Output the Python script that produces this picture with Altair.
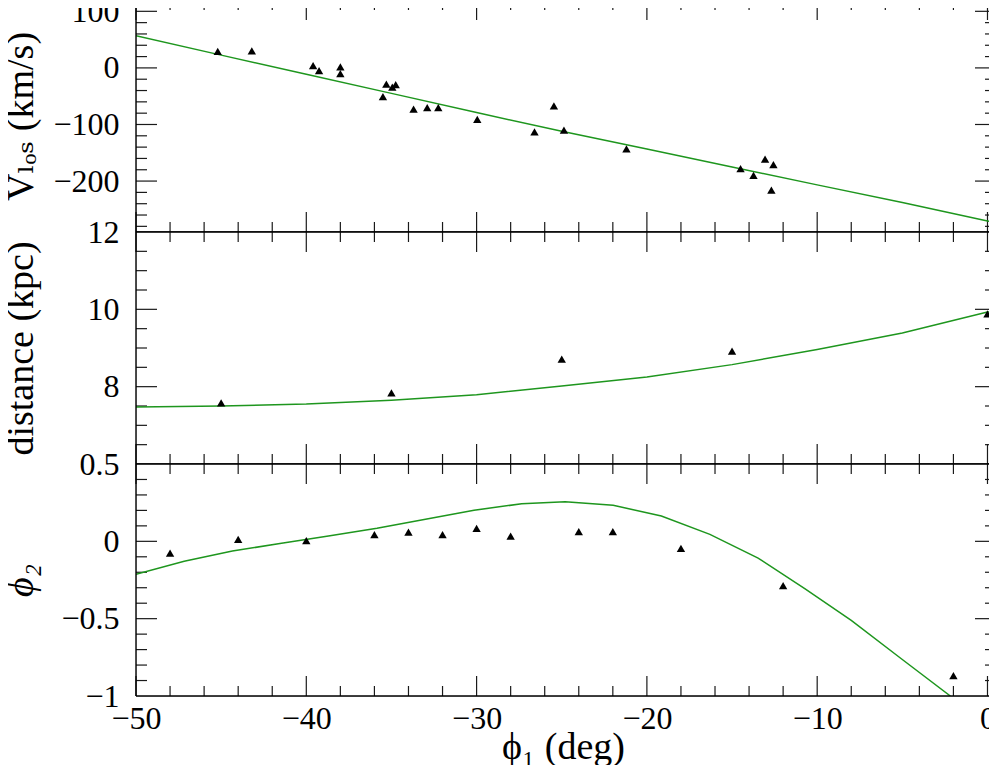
import altair as alt
import pandas as pd

# ---------------- data ----------------
# Panel 1: line-of-sight velocity (km/s)
vlos_phi1 = [-45.2, -43.2, -39.6, -39.25, -38.0, -38.0, -35.5, -35.3, -34.95, -34.75,
             -33.7, -32.9, -32.25, -29.96, -26.6, -25.46, -24.87, -21.2, -14.5, -13.74,
             -13.06, -12.57, -12.69]
vlos_kms = [29, 30, 4, -4.6, 1.8, -10, -50.6, -28.8, -34, -29.4,
            -73, -70, -70, -91, -113, -67, -110, -143, -178, -190,
            -161, -171, -216]
vlos_model_phi1 = [-50, -45, -40, -35, -30, -25, -20, -15, -10, -5, 0, 0.5]
vlos_model_kms = [57, 22.6, -11.3, -45, -79, -112, -143.4, -175, -206.7, -238, -270.5, -273.5]

# Panel 2: distance (kpc)
dist_phi1 = [-45.0, -35.0, -25.0, -15.0, 0.0]
dist_kpc = [7.58, 7.84, 8.71, 8.92, 9.88]
dist_model_phi1 = [-50, -45, -40, -35, -30, -25, -20, -15, -10, -5, 0, 0.5]
dist_model_kpc = [7.475, 7.50, 7.55, 7.65, 7.79, 8.02, 8.25, 8.57, 8.96, 9.39, 9.93, 9.98]

# Panel 3: phi2 (deg)
phi2_phi1 = [-48, -44, -40, -36, -34, -32, -30, -28, -24, -22, -18, -12, -2]
phi2_deg = [-0.076, 0.013, 0.004, 0.043, 0.06, 0.043, 0.084, 0.034, 0.062, 0.062,
            -0.045, -0.287, -0.869]
phi2_model_phi1 = [-50, -47.17, -44.34, -41.55, -38.7, -35.85, -33.0, -30.15, -27.35,
                   -24.8, -21.98, -19.15, -16.3, -13.47, -10.73, -8.0, -5.06, -2.18]
phi2_model_deg = [-0.213, -0.129, -0.063, -0.014, 0.035, 0.085, 0.143, 0.201, 0.243,
                  0.256, 0.233, 0.164, 0.045, -0.108, -0.306, -0.511, -0.759, -1.0]

# tick values
x_major = [-50, -40, -30, -20, -10, 0]
x_minor = [-48, -46, -44, -42, -38, -36, -34, -32, -28, -26, -24, -22,
           -18, -16, -14, -12, -8, -6, -4, -2]
vlos_labels = [-200, -100, 0, 100]
vlos_major = [-200, -100, 0, 100]
vlos_minor = [-280, -260, -240, -220, -180, -160, -140, -120, -80, -60, -40, -20,
              20, 40, 60, 80, 120]
dist_labels = [8, 10, 12]
dist_major = [8, 10]
dist_minor = [6.5, 7, 7.5, 8.5, 9, 9.5, 10.5, 11, 11.5]
phi2_labels = [-1, -0.5, 0, 0.5]
phi2_major = [-0.5, 0]
phi2_minor = [-0.9, -0.8, -0.7, -0.6, -0.4, -0.3, -0.2, -0.1, 0.1, 0.2, 0.3, 0.4]

# ---------------- styling ----------------
W = 860
H = 232
FONT = "Liberation Serif, DejaVu Serif, serif"
GREEN = "#1e961e"
TICK_COLOR = "#1a1a1a"
FRAME = dict(color="black", strokeWidth=1.4)

xs = alt.Scale(domain=[-50, 0.5], nice=False, zero=False)
one_row = pd.DataFrame({"k": [0]})


def frame():
    base = alt.Chart(one_row).mark_rule(**FRAME)
    return [
        base.encode(x=alt.value(0), y=alt.value(0), y2=alt.value(H)),
        base.encode(x=alt.value(W), y=alt.value(0), y2=alt.value(H)),
        base.encode(y=alt.value(0), x=alt.value(0), x2=alt.value(W)),
        base.encode(y=alt.value(H), x=alt.value(0), x2=alt.value(W)),
    ]


def x_ticks(vals, length, xenc):
    df = pd.DataFrame({"phi1": vals})
    base = alt.Chart(df).mark_tick(color=TICK_COLOR, orient="vertical",
                                   size=length, thickness=1.2, opacity=1)
    top = base.encode(x=xenc, y=alt.value(length / 2))
    bot = base.encode(x=xenc, y=alt.value(H - length / 2))
    return [top, bot]


def y_ticks(vals, length, yenc):
    df = pd.DataFrame({"val": vals})
    base = alt.Chart(df).mark_tick(color=TICK_COLOR, orient="horizontal",
                                   size=length, thickness=1.2, opacity=1)
    left = base.encode(y=yenc, x=alt.value(length / 2))
    right = base.encode(y=yenc, x=alt.value(W - length / 2))
    return [left, right]


def panel(px, py, mx, my, ydomain, ymajor, yminor, ylabels, yfmt, ytitle, xaxis,
          title_style="normal"):
    ys = alt.Scale(domain=ydomain, nice=False, zero=False)
    yaxis = alt.Axis(values=ylabels, format=yfmt, ticks=False, tickSize=0,
                     domain=False, grid=False, labelFont=FONT, labelFontSize=32,
                     labelColor="black", labelPadding=17, labelOverlap=False,
                     labelFlush=False,
                     title=ytitle, titleFont=FONT, titleFontSize=38,
                     titleFontWeight="normal", titleFontStyle=title_style,
                     titleColor="black", titleAngle=270, titleX=-104, titleY=H / 2,
                     titleAlign="center", titleBaseline="alphabetic", titleLimit=1000)
    yenc = alt.Y("val:Q", scale=ys, axis=yaxis)
    xenc = alt.X("phi1:Q", scale=xs, axis=xaxis)
    layers = (x_ticks(x_major, 20, xenc) + x_ticks(x_minor, 10, xenc)
              + y_ticks(ymajor, 21, yenc) + y_ticks(yminor, 11, yenc))
    line = alt.Chart(pd.DataFrame({"phi1": mx, "val": my})).mark_line(
        color=GREEN, strokeWidth=1.5, clip=True).encode(x=xenc, y=yenc)
    pts = alt.Chart(pd.DataFrame({"phi1": px, "val": py})).mark_point(
        shape="triangle-up", filled=True, color="black", size=70, opacity=1,
        clip=True).encode(x=xenc, y=yenc)
    return alt.layer(*layers, line, pts, *frame()).properties(width=W, height=H)


x_axis_bottom = alt.Axis(values=x_major, format="d", ticks=False, tickSize=0,
                         domain=False, grid=False, labelFont=FONT, labelFontSize=32,
                         labelColor="black", labelPadding=7, labelFlush=False,
                         labelOverlap=False,
                         title="\u03d5\u2081 (deg)", titleFont=FONT, titleFontSize=38,
                         titleFontWeight="normal", titleColor="black",
                         titleX=427, titleY=62, titleAlign="center",
                         titleBaseline="alphabetic", titleLimit=1000)

p1 = panel(vlos_phi1, vlos_kms, vlos_model_phi1, vlos_model_kms, [-290, 120],
           vlos_major, vlos_minor, vlos_labels, "d", "V\u2097\u2092\u209b (km/s)", None)
p2 = panel(dist_phi1, dist_kpc, dist_model_phi1, dist_model_kpc, [6, 12],
           dist_major, dist_minor, dist_labels, "d", "distance (kpc)", None)
p3 = panel(phi2_phi1, phi2_deg, phi2_model_phi1, phi2_model_deg, [-1, 0.5],
           phi2_major, phi2_minor, phi2_labels, ".1~f", "\u03d5\u2082", x_axis_bottom,
           title_style="italic")

chart = (
    alt.vconcat(p1, p2, p3, spacing=0, bounds="flush")
    .properties(padding={"left": -7, "top": -14, "right": -9, "bottom": 0})
    .configure(background="white")
)

chart.save("out.html", embed_options={"renderer": "svg", "actions": False})
